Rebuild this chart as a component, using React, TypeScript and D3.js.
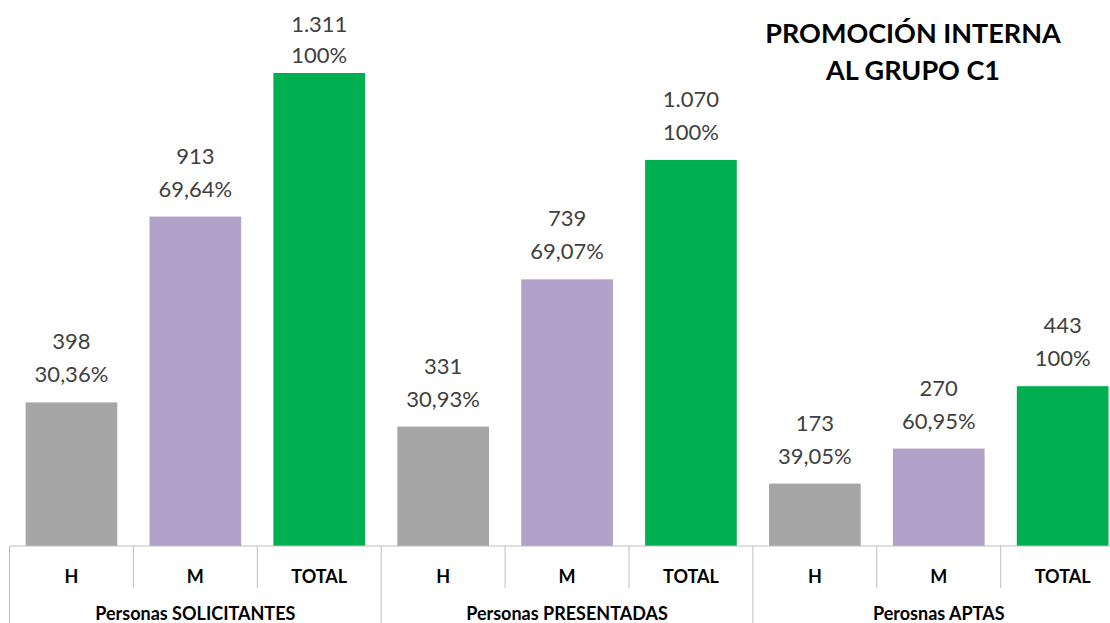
import React from "react";
import * as d3 from "d3";

const groups = ["Personas SOLICITANTES", "Personas PRESENTADAS", "Perosnas APTAS"];
const subCats = ["H", "M", "TOTAL"];
const values = [
  [398, 913, 1311],
  [331, 739, 1070],
  [173, 270, 443],
];
const valueLabels = [
  ["398", "913", "1.311"],
  ["331", "739", "1.070"],
  ["173", "270", "443"],
];
const pctLabels = [
  ["30,36%", "69,64%", "100%"],
  ["30,93%", "69,07%", "100%"],
  ["39,05%", "60,95%", "100%"],
];
const colors = ["#A6A6A6", "#B1A0C7", "#00B050"];
const titleLines = ["PROMOCIÓN INTERNA", "AL GRUPO C1"];

export default function App() {
  const W = 1110, H = 623;
  const baseY = 546;
  const left = 9.5;
  const slotW = 123.9;
  const x0 = d3.scaleBand<string>().domain(groups).range([left, left + slotW * 9]).padding(0);
  const x1 = d3.scaleBand<string>().domain(subCats).range([0, x0.bandwidth()]).padding(0);
  const y = d3.scaleLinear().domain([0, 1400]).range([baseY, baseY - 1400 * 0.3608]);
  const barW = x1.bandwidth() * 0.74;
  const font = "Lato, 'Liberation Sans', sans-serif";
  const axisColor = "#BFBFBF";

  return (
    <svg width={W} height={H} style={{ position: "absolute", left: 0, top: 0, background: "#fff" }}>
      {groups.map((g, gi) => (
        <g key={g} transform={`translate(${x0(g)},0)`}>
          {subCats.map((s, si) => {
            const v = values[gi][si];
            const cx = (x1(s) as number) + x1.bandwidth() / 2;
            const top = y(v);
            const valY = Math.max(top - 53, 32);
            const pctY = Math.max(top - 20, valY + 31);
            return (
              <g key={s}>
                <rect x={cx - barW / 2} y={top} width={barW} height={baseY - top} fill={colors[si]} />
                <text x={cx} y={valY} textAnchor="middle" fontFamily={font} fontSize={22} fill="#404040">
                  {valueLabels[gi][si]}
                </text>
                <text x={cx} y={pctY} textAnchor="middle" fontFamily={font} fontSize={22} fill="#404040">
                  {pctLabels[gi][si]}
                </text>
                <text x={cx} y={583} textAnchor="middle" fontFamily={font} fontSize={18} fontWeight="bold" fill="#000">
                  {s}
                </text>
                {si > 0 && (
                  <line x1={x1(s)} x2={x1(s)} y1={baseY} y2={588} stroke={axisColor} strokeWidth={1} />
                )}
              </g>
            );
          })}
          <text x={x0.bandwidth() / 2} y={620} textAnchor="middle" fontFamily={font} fontSize={18} fontWeight="bold" fill="#000">
            {g}
          </text>
          <line x1={0} x2={0} y1={baseY} y2={H} stroke={axisColor} strokeWidth={1} />
        </g>
      ))}
      <line x1={left} x2={left + slotW * 9} y1={baseY} y2={baseY} stroke={axisColor} strokeWidth={1} />
      {titleLines.map((t, i) => (
        <text key={t} x={913} y={43 + i * 37} textAnchor="middle" fontFamily={font} fontSize={27} fontWeight="bold" fill="#000">
          {t}
        </text>
      ))}
    </svg>
  );
}
